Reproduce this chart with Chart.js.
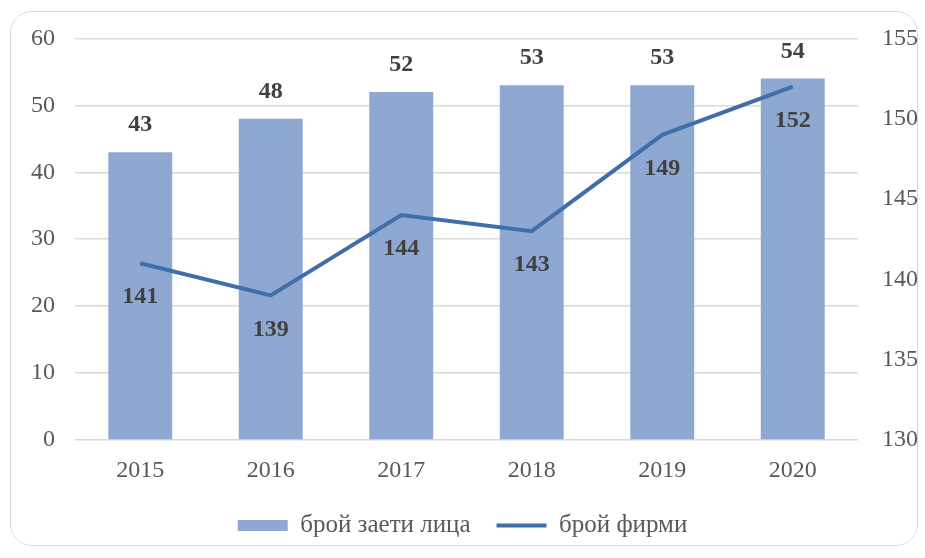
<!DOCTYPE html>
<html>
<head>
<meta charset="utf-8">
<script src="https://cdn.jsdelivr.net/npm/chart.js@4.4.1/dist/chart.umd.min.js"></script>
<style>
  body { margin: 0; background: #fff; }
  #wrap { position: relative; width: 925px; height: 558px; }
  #frame {
    position: absolute; left: 10px; top: 11px; width: 906px; height: 533px;
    border: 1.5px solid #d9d9d9; border-radius: 22px; pointer-events: none;
  }
</style>
</head>
<body>
<div id="wrap">
  <canvas id="chart" width="925" height="558"></canvas>
  <div id="frame"></div>
</div>
<script>
var years = ['2015', '2016', '2017', '2018', '2019', '2020'];
var employees = [43, 48, 52, 53, 53, 54];
var firms = [141, 139, 144, 143, 149, 152];
var employeesLabel = 'брой заети лица';
var firmsLabel = 'брой фирми';

var serif = "'Liberation Serif', 'Times New Roman', serif";
var tickColor = '#595959';

var valueLabels = {
    id: 'valueLabels',
    afterDatasetsDraw: function(chart) {
        var ctx = chart.ctx;
        ctx.save();
        ctx.font = 'bold 24px ' + serif;
        ctx.fillStyle = '#404040';
        ctx.textAlign = 'center';
        ctx.textBaseline = 'middle';
        chart.getDatasetMeta(0).data.forEach(function(bar, i) {
            ctx.fillText(employees[i], bar.x, bar.y - 27);
        });
        chart.getDatasetMeta(1).data.forEach(function(pt, i) {
            ctx.fillText(firms[i], pt.x, pt.y + 34);
        });
        ctx.restore();
    }
};

var ctx = document.getElementById('chart').getContext('2d');
var chart = new Chart(ctx, {
    data: {
        labels: years,
        datasets: [{
            type: 'bar',
            label: employeesLabel,
            data: employees,
            backgroundColor: '#8fa8d2',
            borderWidth: 0,
            barPercentage: 0.98,
            categoryPercentage: 0.5,
            pointStyle: 'rect',
            yAxisID: 'y',
            order: 1
        }, {
            type: 'line',
            label: firmsLabel,
            data: firms,
            borderColor: '#3f6fa9',
            backgroundColor: '#3f6fa9',
            borderWidth: 4,
            pointRadius: 0,
            pointStyle: 'line',
            tension: 0,
            yAxisID: 'y1',
            order: 0
        }]
    },
    options: {
        responsive: false,
        animation: false,
        layout: {
            padding: { top: 38, bottom: 10 }
        },
        plugins: {
            tooltip: { enabled: false },
            legend: {
                position: 'bottom',
                labels: {
                    usePointStyle: true,
                    pointStyleWidth: 50,
                    boxHeight: 11,
                    padding: 26,
                    color: tickColor,
                    font: { family: serif, size: 25 },
                    sort: function(a, b) { return a.datasetIndex - b.datasetIndex; }
                }
            }
        },
        scales: {
            x: {
                grid: { display: false },
                border: { display: false },
                ticks: {
                    color: tickColor,
                    padding: 8,
                    font: { family: serif, size: 24 }
                },
                afterFit: function(scale) { scale.height = 47; }
            },
            y: {
                position: 'left',
                min: 0,
                max: 60,
                ticks: {
                    stepSize: 10,
                    color: tickColor,
                    padding: 20,
                    font: { family: serif, size: 24 }
                },
                grid: { color: '#d9d9d9', lineWidth: 1.5, drawTicks: false },
                border: { display: false },
                afterFit: function(scale) { scale.width = 75; }
            },
            y1: {
                position: 'right',
                min: 130,
                max: 155,
                ticks: {
                    stepSize: 5,
                    color: tickColor,
                    padding: 24,
                    font: { family: serif, size: 24 }
                },
                grid: { drawOnChartArea: false, drawTicks: false },
                border: { display: false },
                afterFit: function(scale) { scale.width = 67; }
            }
        }
    },
    plugins: [valueLabels]
});
</script>
</body>
</html>
